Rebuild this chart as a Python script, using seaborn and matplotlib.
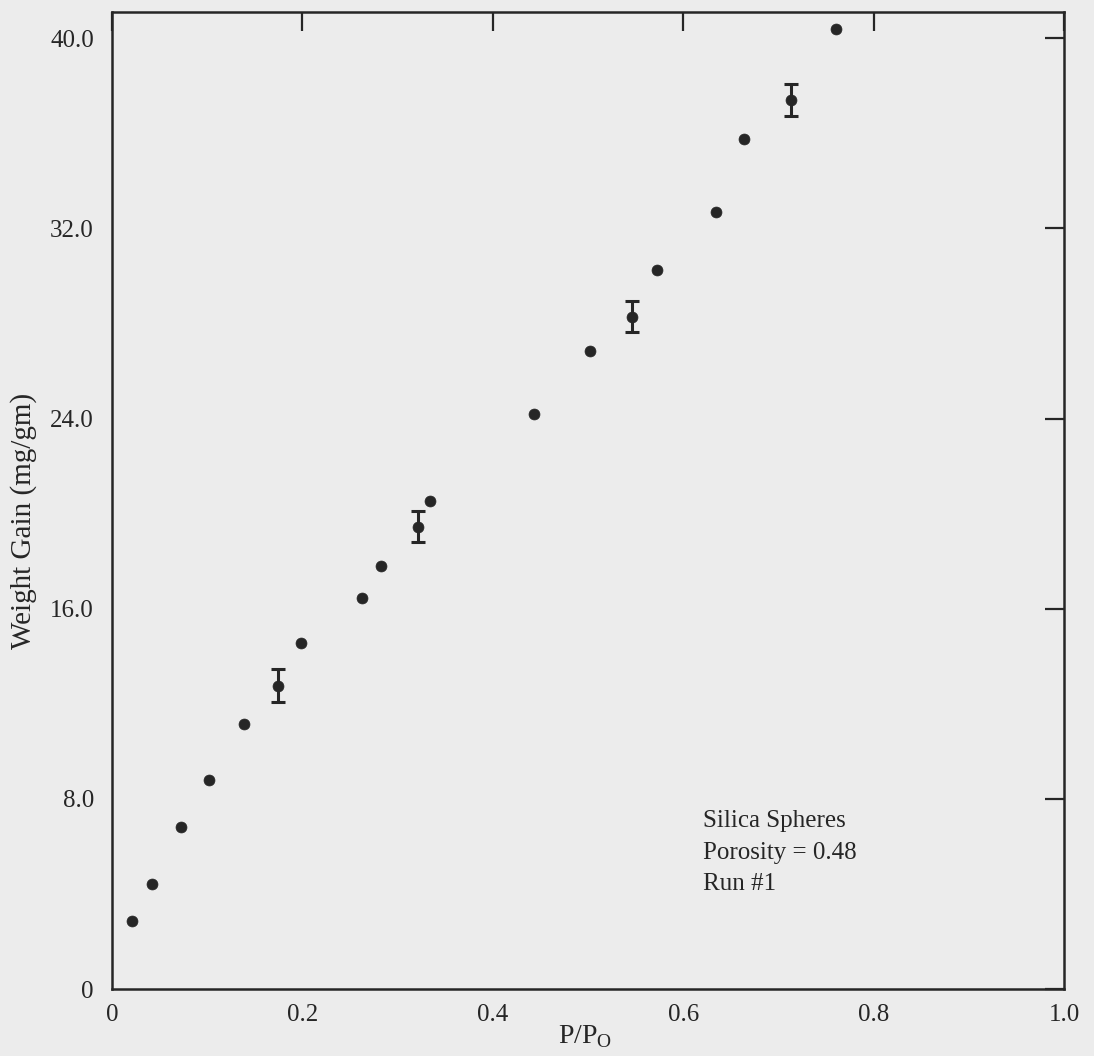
import matplotlib
matplotlib.use("Agg")
import matplotlib.pyplot as plt
import seaborn as sns
import pandas as pd

# Relative pressure and weight gain readings
p_ratio = [0.021, 0.042, 0.072, 0.102, 0.139, 0.174, 0.199, 0.263, 0.283, 0.321,
           0.334, 0.443, 0.502, 0.546, 0.572, 0.634, 0.664, 0.713, 0.760]
weight_gain = [2.86, 4.42, 6.82, 8.80, 11.16, 12.76, 14.57, 16.46, 17.81, 19.45,
               20.55, 24.21, 26.86, 28.29, 30.23, 32.67, 35.75, 37.39, 40.38]

# Points that carry an uncertainty bar
err_x = [0.174, 0.321, 0.546, 0.713]
err_y = [12.76, 19.45, 28.29, 37.39]
err_half = [0.70, 0.65, 0.67, 0.68]

x_ticks = [0.0, 0.2, 0.4, 0.6, 0.8, 1.0]
x_ticklabels = ["0", "0.2", "0.4", "0.6", "0.8", "1.0"]
y_ticks = [0, 8, 16, 24, 32, 40]
y_ticklabels = ["0", "8.0", "16.0", "24.0", "32.0", "40.0"]

sns.set_theme(style="white")
plt.rcParams["font.family"] = ["Liberation Serif", "DejaVu Serif"]
plt.rcParams["mathtext.fontset"] = "custom"
plt.rcParams["mathtext.rm"] = "Liberation Serif"

ink = "#262626"
paper = "#ececec"

fig = plt.figure(figsize=(10.94, 10.56), dpi=100, facecolor=paper)
ax = fig.add_axes([0.1024, 0.0634, 0.8702, 0.9252])
ax.set_facecolor(paper)

df = pd.DataFrame({"p": p_ratio, "w": weight_gain})
sns.scatterplot(data=df, x="p", y="w", ax=ax, s=62, color=ink,
                edgecolor=ink, linewidth=0.5, zorder=3, legend=False)
ax.errorbar(err_x, err_y, yerr=err_half, fmt="none", ecolor=ink,
            elinewidth=2.2, capsize=5, capthick=2.2, zorder=2)

ax.set_xlim(0, 1.0)
ax.set_ylim(0, 41.1)
ax.set_xticks(x_ticks)
ax.set_xticklabels(x_ticklabels)
ax.set_yticks(y_ticks)
ax.set_yticklabels(y_ticklabels)

ax.tick_params(axis="both", which="major", direction="in", length=14,
               width=1.6, color=ink, labelcolor=ink, labelsize=18,
               top=True, right=True, pad=11)
ax.tick_params(axis="y", pad=13)

for side in ax.spines.values():
    side.set_color(ink)
    side.set_linewidth(1.8)

ax.set_xlabel(r"P/P$_{\mathregular{O}}$", fontsize=20, color=ink)
ax.xaxis.set_label_coords(0.497, -0.035)
ax.set_ylabel("Weight Gain (mg/gm)", fontsize=21, color=ink)
ax.yaxis.set_label_coords(-0.079, 0.479)

ax.text(0.621, 0.183, "Silica Spheres\nPorosity = 0.48\nRun #1",
        transform=ax.transAxes, fontsize=18, color=ink, ha="left", va="top",
        linespacing=1.55)

fig.savefig("out.png", dpi=100, facecolor=paper)
